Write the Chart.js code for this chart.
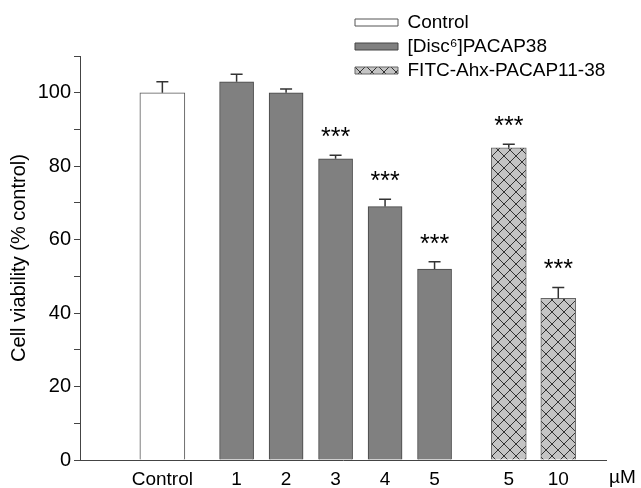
<!DOCTYPE html>
<html>
<head>
  <meta charset="UTF-8">
  <title>Cell viability</title>
  <script src="https://cdn.jsdelivr.net/npm/chart.js"></script>
  <style>
    body { margin: 0; background: #fff; }
  </style>
</head>
<body>
  <canvas id="chart" width="641" height="488"></canvas>

  <script>
    // tick labels and where each bar sits on the x axis
    const xLabels = ['Control', '1', '2', '3', '4', '5', '5', '10'];
    const controlPos = [0];
    const discPos = [1.5, 2.5, 3.5, 4.5, 5.5];
    const fitcPos = [7, 8];

    // values (% control) and error (SEM, upper half only visible)
    const controlValues = [100];
    const controlErr = [3];
    const discValues = [103, 100, 82, 69, 52];
    const discErr = [2, 1, 1, 2, 2];
    const fitcValues = [85, 44];
    const fitcErr = [1, 3];

    // significance marks
    const controlStars = [''];
    const discStars = ['', '', '***', '***', '***'];
    const fitcStars = ['***', '***'];

    const FONT = "'Liberation Sans', Arial, sans-serif";

    // cross hatch for FITC bars
    function makeHatch() {
      const c = document.createElement('canvas');
      c.width = 12; c.height = 12;
      const g = c.getContext('2d');
      g.fillStyle = '#c4c4c4';
      g.fillRect(0, 0, 12, 12);
      g.strokeStyle = '#333';
      g.lineWidth = 1;
      g.beginPath();
      g.moveTo(-1, -1); g.lineTo(13, 13);
      g.moveTo(-1, 13); g.lineTo(13, -1);
      g.stroke();
      return g.createPattern(c, 'repeat');
    }

    const pts = (xs, ys) => xs.map((x, i) => ({ x: x, y: ys[i] }));

    const errList = [controlErr, discErr, fitcErr];
    const starList = [controlStars, discStars, fitcStars];

    const errorBars = {
      id: 'errorBars',
      afterDatasetsDraw(chart) {
        const ctx = chart.ctx;
        const yScale = chart.scales.y;
        ctx.save();
        chart.data.datasets.forEach((ds, di) => {
          chart.getDatasetMeta(di).data.forEach((bar, i) => {
            const top = yScale.getPixelForValue(ds.data[i].y + errList[di][i]);
            ctx.strokeStyle = '#333';
            ctx.lineWidth = 1.5;
            ctx.beginPath();
            ctx.moveTo(bar.x, bar.y);
            ctx.lineTo(bar.x, top);
            ctx.moveTo(bar.x - 6, top);
            ctx.lineTo(bar.x + 6, top);
            ctx.stroke();
            if (starList[di][i]) {
              ctx.fillStyle = '#000';
              ctx.font = '25px ' + FONT;
              ctx.textAlign = 'center';
              ctx.textBaseline = 'alphabetic';
              ctx.fillText(starList[di][i], bar.x, top - 10);
            }
          });
        });
        ctx.restore();
      }
    };

    // x axis overhang to the left and the unit after the last label
    const axisExtras = {
      id: 'axisExtras',
      afterDraw(chart) {
        const ctx = chart.ctx;
        const a = chart.chartArea;
        const xs = chart.scales.x;
        ctx.save();
        ctx.strokeStyle = '#444';
        ctx.lineWidth = 1;
        ctx.beginPath();
        ctx.moveTo(a.left - 6, a.bottom + 0.5);
        ctx.lineTo(a.left, a.bottom + 0.5);
        ctx.stroke();
        ctx.fillStyle = '#000';
        ctx.font = '19px ' + FONT;
        ctx.textAlign = 'left';
        ctx.textBaseline = 'top';
        ctx.fillText('\u00b5M', a.right + 3, xs.top + 8);
        ctx.restore();
      }
    };

    // put the legend column at the top right
    const legendPlace = {
      id: 'legendPlace',
      afterLayout(chart) {
        const lg = chart.legend;
        lg.left = 350; lg.top = 8;
        lg.right = 641; lg.bottom = 110;
      }
    };

    new Chart(document.getElementById('chart'), {
      type: 'bar',
      data: {
        datasets: [
          {
            label: 'Control',
            data: pts(controlPos, controlValues),
            backgroundColor: '#fff',
            borderColor: '#555',
            borderWidth: 1,
            barThickness: 45
          },
          {
            label: '[Disc\u2076]PACAP38',
            data: pts(discPos, discValues),
            backgroundColor: '#808080',
            borderColor: '#444',
            borderWidth: 1,
            barThickness: 34
          },
          {
            label: 'FITC-Ahx-PACAP11-38',
            data: pts(fitcPos, fitcValues),
            backgroundColor: makeHatch(),
            borderColor: '#666',
            borderWidth: 1,
            barThickness: 35
          }
        ]
      },
      options: {
        responsive: false,
        animation: false,
        grouped: false,
        layout: { padding: { left: 0, top: 56, right: 35, bottom: 0 } },
        plugins: {
          legend: {
            position: 'chartArea',
            align: 'start',
            labels: {
              boxWidth: 43,
              boxHeight: 7,
              padding: 5,
              color: '#000',
              font: { family: FONT, size: 19 }
            }
          },
          tooltip: { enabled: false }
        },
        scales: {
          x: {
            type: 'linear',
            min: -1,
            max: 8.3,
            grid: { display: false, drawTicks: false },
            border: { color: '#444', width: 1 },
            afterBuildTicks: (scale) => {
              scale.ticks = controlPos.concat(discPos, fitcPos).map(v => ({ value: v }));
            },
            afterFit: (scale) => { scale.height = 28; },
            ticks: {
              autoSkip: false,
              maxRotation: 0,
              padding: 8,
              color: '#000',
              font: { family: FONT, size: 19 },
              callback: (v, i) => xLabels[i]
            }
          },
          y: {
            min: 0,
            max: 110,
            afterFit: (scale) => { scale.width = 80; },
            grid: { drawOnChartArea: false, tickLength: 6, color: '#444' },
            border: { color: '#444', width: 1 },
            ticks: {
              stepSize: 10,
              padding: 3,
              color: '#000',
              font: { family: FONT, size: 20 },
              callback: (v) => (v % 20 === 0 && v <= 100) ? v : ''
            },
            title: {
              display: true,
              text: 'Cell viability (% control)',
              color: '#000',
              font: { family: FONT, size: 20 },
              padding: { top: 7, bottom: 0 }
            }
          }
        }
      },
      plugins: [errorBars, axisExtras, legendPlace]
    });
  </script>
</body>
</html>
